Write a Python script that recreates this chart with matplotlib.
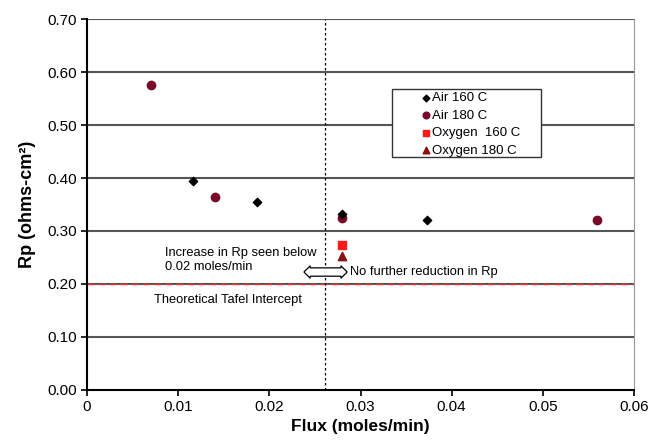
import matplotlib.pyplot as plt
from matplotlib.patches import Rectangle

plt.rcParams['font.family'] = ['Liberation Sans', 'DejaVu Sans']

air160_x = [0.0116, 0.0186, 0.0280, 0.0373]
air160_y = [0.394, 0.355, 0.332, 0.321]
air180_x = [0.0070, 0.0140, 0.0280, 0.0559]
air180_y = [0.575, 0.364, 0.325, 0.321]
oxy160_x = [0.0280]
oxy160_y = [0.274]
oxy180_x = [0.0280]
oxy180_y = [0.253]

tafel = 0.20
flux_limit = 0.0261

fig = plt.figure(figsize=(6.66, 4.45), dpi=100)
ax = fig.add_axes([0.1306, 0.1236, 0.8214, 0.8337])

for y in [0.1, 0.2, 0.3, 0.4, 0.5, 0.6, 0.7]:
    ax.axhline(y, color='#555555', lw=1.5, zorder=1)
ax.axhline(tafel, color='#ff3030', lw=1.0, ls=(0, (5, 3)), zorder=2)
ax.axvline(flux_limit, color='black', lw=0.9, ls=(0, (2, 2)), zorder=2)

ax.scatter(air160_x, air160_y, marker='D', s=18, color='black', label='Air 160 C', zorder=4)
ax.scatter(air180_x, air180_y, marker='o', s=36, color='#7a0a2a', label='Air 180 C', zorder=3)
ax.scatter(oxy160_x, oxy160_y, marker='s', s=36, color='#ff1a1a', label='Oxygen  160 C', zorder=3)
ax.scatter(oxy180_x, oxy180_y, marker='^', s=36, color='#8b1010', label='Oxygen 180 C', zorder=3)

ax.text(0.0086, 0.2455, 'Increase in Rp seen below\n0.02 moles/min', fontsize=9.3, va='center', linespacing=1.15)
ax.text(0.0288, 0.2226, 'No further reduction in Rp', fontsize=9.3, va='center')
ax.text(0.0074, 0.1690, 'Theoretical Tafel Intercept', fontsize=9.3, va='center')
ax.text(flux_limit, 0.2226, '              ', fontsize=6, ha='center', va='center',
        bbox=dict(boxstyle='darrow,pad=0.08', fc='white', ec='black', lw=0.9), zorder=5)

# legend box drawn separately so it can be wider than the entries
ax.add_patch(Rectangle((0.558, 0.628), 0.272, 0.183, transform=ax.transAxes,
                       fc='white', ec='#333333', lw=1.0, zorder=5))
leg = ax.legend(loc='upper left', bbox_to_anchor=(0.6, 0.814), fontsize=9.5,
                frameon=False, handletextpad=0.0, handlelength=1.0, borderpad=0.3,
                labelspacing=0.4, borderaxespad=0, markerscale=0.8)
leg.set_zorder(6)

ax.set_xlim(0, 0.06)
ax.set_ylim(0, 0.70)
ax.set_xticks([0, 0.01, 0.02, 0.03, 0.04, 0.05, 0.06])
ax.set_xticklabels(['0', '0.01', '0.02', '0.03', '0.04', '0.05', '0.06'])
ax.set_yticks([0, 0.1, 0.2, 0.3, 0.4, 0.5, 0.6, 0.7])
ax.set_yticklabels(['0.00', '0.10', '0.20', '0.30', '0.40', '0.50', '0.60', '0.70'])
ax.tick_params(direction='out', length=4, width=1.2, labelsize=11, colors='black')
ax.tick_params(axis='x', pad=3)

ax.spines['top'].set_visible(False)
ax.spines['right'].set_color('#999999')
ax.spines['left'].set_linewidth(1.5)
ax.spines['bottom'].set_linewidth(1.5)

ax.set_xlabel('Flux (moles/min)', fontsize=12.5, fontweight='bold', labelpad=4)
ax.set_ylabel('Rp (ohms-cm²)', fontsize=13, fontweight='bold', labelpad=8)

fig.savefig('out.png', dpi=100)
